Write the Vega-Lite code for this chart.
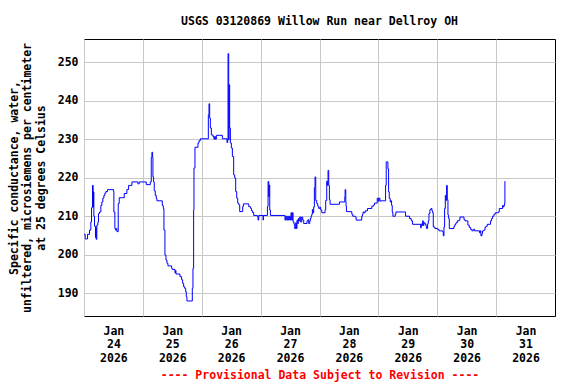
{
  "$schema": "https://vega.github.io/schema/vega-lite/v6.json",
  "width": 471,
  "height": 277,
  "autosize": "none",
  "padding": {"left": 84, "top": 39, "right": 21, "bottom": 68},
  "background": "white",
  "title": {
    "text": "USGS 03120869 Willow Run near Dellroy OH",
    "font": "DejaVu Sans Mono",
    "fontSize": 11.5,
    "fontWeight": "bold",
    "color": "black",
    "anchor": "middle",
    "baseline": "alphabetic",
    "offset": 3
  },
  "config": {
    "view": {"stroke": "black", "strokeWidth": 1},
    "axis": {
      "labelFont": "DejaVu Sans Mono",
      "labelFontWeight": "bold",
      "labelFontSize": 11.5,
      "labelColor": "black",
      "titleFont": "DejaVu Sans Mono",
      "titleFontWeight": "bold",
      "titleFontSize": 11.5,
      "titleColor": "black",
      "gridColor": "#c8c8c8",
      "gridWidth": 1,
      "gridOpacity": 1,
      "domain": false,
      "ticks": false
    }
  },
  "data": {
    "values": [
      {"t": "2026-01-24T00:00", "v": 205.3},
      {"t": "2026-01-24T00:29", "v": 204.1},
      {"t": "2026-01-24T01:26", "v": 205.3},
      {"t": "2026-01-24T02:15", "v": 206.4},
      {"t": "2026-01-24T02:47", "v": 208.5},
      {"t": "2026-01-24T03:04", "v": 212.2},
      {"t": "2026-01-24T03:28", "v": 218.0},
      {"t": "2026-01-24T03:44", "v": 212.4},
      {"t": "2026-01-24T03:53", "v": 216.3},
      {"t": "2026-01-24T04:01", "v": 210.0},
      {"t": "2026-01-24T04:17", "v": 207.4},
      {"t": "2026-01-24T04:41", "v": 204.5},
      {"t": "2026-01-24T04:50", "v": 207.2},
      {"t": "2026-01-24T04:58", "v": 204.0},
      {"t": "2026-01-24T05:14", "v": 207.7},
      {"t": "2026-01-24T05:39", "v": 208.5},
      {"t": "2026-01-24T05:55", "v": 210.7},
      {"t": "2026-01-24T06:20", "v": 211.1},
      {"t": "2026-01-24T06:52", "v": 212.8},
      {"t": "2026-01-24T07:17", "v": 213.7},
      {"t": "2026-01-24T07:41", "v": 214.7},
      {"t": "2026-01-24T08:06", "v": 215.4},
      {"t": "2026-01-24T08:30", "v": 216.0},
      {"t": "2026-01-24T08:55", "v": 216.4},
      {"t": "2026-01-24T09:35", "v": 216.9},
      {"t": "2026-01-24T12:02", "v": 216.5},
      {"t": "2026-01-24T12:11", "v": 211.1},
      {"t": "2026-01-24T12:35", "v": 206.8},
      {"t": "2026-01-24T12:52", "v": 206.4},
      {"t": "2026-01-24T13:08", "v": 206.8},
      {"t": "2026-01-24T13:24", "v": 206.0},
      {"t": "2026-01-24T13:57", "v": 213.3},
      {"t": "2026-01-24T14:22", "v": 214.8},
      {"t": "2026-01-24T16:24", "v": 215.9},
      {"t": "2026-01-24T17:29", "v": 216.9},
      {"t": "2026-01-24T18:10", "v": 218.0},
      {"t": "2026-01-24T19:32", "v": 218.9},
      {"t": "2026-01-24T21:58", "v": 218.4},
      {"t": "2026-01-24T22:31", "v": 218.9},
      {"t": "2026-01-25T01:23", "v": 218.2},
      {"t": "2026-01-25T03:01", "v": 218.9},
      {"t": "2026-01-25T03:25", "v": 225.3},
      {"t": "2026-01-25T03:41", "v": 226.6},
      {"t": "2026-01-25T03:58", "v": 225.3},
      {"t": "2026-01-25T04:06", "v": 220.2},
      {"t": "2026-01-25T04:22", "v": 218.9},
      {"t": "2026-01-25T04:38", "v": 216.6},
      {"t": "2026-01-25T05:03", "v": 215.4},
      {"t": "2026-01-25T05:28", "v": 214.6},
      {"t": "2026-01-25T05:44", "v": 214.0},
      {"t": "2026-01-25T07:55", "v": 212.8},
      {"t": "2026-01-25T08:19", "v": 212.0},
      {"t": "2026-01-25T08:35", "v": 206.4},
      {"t": "2026-01-25T09:00", "v": 199.9},
      {"t": "2026-01-25T09:25", "v": 198.6},
      {"t": "2026-01-25T09:49", "v": 197.8},
      {"t": "2026-01-25T10:13", "v": 197.1},
      {"t": "2026-01-25T11:43", "v": 196.5},
      {"t": "2026-01-25T11:59", "v": 196.2},
      {"t": "2026-01-25T13:05", "v": 195.3},
      {"t": "2026-01-25T13:21", "v": 195.9},
      {"t": "2026-01-25T13:29", "v": 195.0},
      {"t": "2026-01-25T15:07", "v": 194.3},
      {"t": "2026-01-25T15:48", "v": 193.5},
      {"t": "2026-01-25T16:12", "v": 192.6},
      {"t": "2026-01-25T16:37", "v": 191.7},
      {"t": "2026-01-25T17:01", "v": 191.3},
      {"t": "2026-01-25T17:26", "v": 190.4},
      {"t": "2026-01-25T17:42", "v": 189.1},
      {"t": "2026-01-25T17:58", "v": 188.0},
      {"t": "2026-01-25T20:09", "v": 191.3},
      {"t": "2026-01-25T20:25", "v": 196.5},
      {"t": "2026-01-25T20:41", "v": 211.6},
      {"t": "2026-01-25T20:50", "v": 222.5},
      {"t": "2026-01-25T21:14", "v": 227.9},
      {"t": "2026-01-25T22:28", "v": 229.0},
      {"t": "2026-01-25T22:52", "v": 229.6},
      {"t": "2026-01-25T23:25", "v": 230.1},
      {"t": "2026-01-26T02:41", "v": 236.3},
      {"t": "2026-01-26T02:57", "v": 239.2},
      {"t": "2026-01-26T03:14", "v": 235.5},
      {"t": "2026-01-26T03:30", "v": 232.9},
      {"t": "2026-01-26T03:55", "v": 231.1},
      {"t": "2026-01-26T04:35", "v": 230.7},
      {"t": "2026-01-26T04:59", "v": 230.0},
      {"t": "2026-01-26T05:16", "v": 230.7},
      {"t": "2026-01-26T05:32", "v": 230.0},
      {"t": "2026-01-26T05:57", "v": 231.0},
      {"t": "2026-01-26T08:24", "v": 230.1},
      {"t": "2026-01-26T10:18", "v": 229.1},
      {"t": "2026-01-26T10:34", "v": 230.1},
      {"t": "2026-01-26T10:43", "v": 252.2},
      {"t": "2026-01-26T10:59", "v": 229.8},
      {"t": "2026-01-26T11:07", "v": 244.1},
      {"t": "2026-01-26T11:23", "v": 232.9},
      {"t": "2026-01-26T11:40", "v": 229.0},
      {"t": "2026-01-26T12:04", "v": 227.7},
      {"t": "2026-01-26T12:29", "v": 225.5},
      {"t": "2026-01-26T13:01", "v": 220.7},
      {"t": "2026-01-26T13:26", "v": 219.9},
      {"t": "2026-01-26T13:50", "v": 216.4},
      {"t": "2026-01-26T14:15", "v": 214.7},
      {"t": "2026-01-26T14:40", "v": 213.4},
      {"t": "2026-01-26T15:04", "v": 213.0},
      {"t": "2026-01-26T15:28", "v": 211.2},
      {"t": "2026-01-26T16:42", "v": 212.5},
      {"t": "2026-01-26T16:58", "v": 213.2},
      {"t": "2026-01-26T19:09", "v": 212.5},
      {"t": "2026-01-26T19:50", "v": 212.1},
      {"t": "2026-01-26T20:14", "v": 211.5},
      {"t": "2026-01-26T20:38", "v": 211.0},
      {"t": "2026-01-26T21:11", "v": 210.2},
      {"t": "2026-01-26T22:41", "v": 209.9},
      {"t": "2026-01-26T22:58", "v": 209.0},
      {"t": "2026-01-26T23:14", "v": 210.2},
      {"t": "2026-01-27T01:00", "v": 209.0},
      {"t": "2026-01-27T01:08", "v": 210.2},
      {"t": "2026-01-27T02:46", "v": 212.5},
      {"t": "2026-01-27T03:02", "v": 219.0},
      {"t": "2026-01-27T03:19", "v": 215.1},
      {"t": "2026-01-27T03:27", "v": 218.1},
      {"t": "2026-01-27T03:43", "v": 211.6},
      {"t": "2026-01-27T03:59", "v": 210.2},
      {"t": "2026-01-27T09:56", "v": 209.0},
      {"t": "2026-01-27T10:13", "v": 210.0},
      {"t": "2026-01-27T10:37", "v": 209.0},
      {"t": "2026-01-27T11:02", "v": 210.0},
      {"t": "2026-01-27T11:18", "v": 209.0},
      {"t": "2026-01-27T11:43", "v": 210.0},
      {"t": "2026-01-27T12:07", "v": 209.0},
      {"t": "2026-01-27T12:23", "v": 210.9},
      {"t": "2026-01-27T12:40", "v": 209.0},
      {"t": "2026-01-27T12:56", "v": 210.9},
      {"t": "2026-01-27T13:13", "v": 208.5},
      {"t": "2026-01-27T13:37", "v": 207.9},
      {"t": "2026-01-27T13:53", "v": 206.8},
      {"t": "2026-01-27T14:18", "v": 208.3},
      {"t": "2026-01-27T14:34", "v": 206.8},
      {"t": "2026-01-27T14:50", "v": 209.0},
      {"t": "2026-01-27T15:07", "v": 208.1},
      {"t": "2026-01-27T15:23", "v": 209.4},
      {"t": "2026-01-27T15:40", "v": 208.8},
      {"t": "2026-01-27T15:56", "v": 209.8},
      {"t": "2026-01-27T16:20", "v": 208.5},
      {"t": "2026-01-27T16:45", "v": 209.8},
      {"t": "2026-01-27T17:09", "v": 209.0},
      {"t": "2026-01-27T17:34", "v": 208.1},
      {"t": "2026-01-27T18:55", "v": 208.8},
      {"t": "2026-01-27T19:20", "v": 209.1},
      {"t": "2026-01-27T19:36", "v": 208.1},
      {"t": "2026-01-27T20:01", "v": 208.8},
      {"t": "2026-01-27T20:17", "v": 209.4},
      {"t": "2026-01-27T20:34", "v": 210.0},
      {"t": "2026-01-27T20:50", "v": 210.5},
      {"t": "2026-01-27T21:06", "v": 211.7},
      {"t": "2026-01-27T21:22", "v": 210.9},
      {"t": "2026-01-27T21:38", "v": 212.4},
      {"t": "2026-01-27T21:55", "v": 217.4},
      {"t": "2026-01-27T22:11", "v": 220.2},
      {"t": "2026-01-27T22:28", "v": 214.1},
      {"t": "2026-01-27T22:52", "v": 213.3},
      {"t": "2026-01-27T23:17", "v": 212.6},
      {"t": "2026-01-27T23:41", "v": 212.0},
      {"t": "2026-01-28T00:05", "v": 212.3},
      {"t": "2026-01-28T00:30", "v": 211.6},
      {"t": "2026-01-28T00:55", "v": 210.9},
      {"t": "2026-01-28T02:16", "v": 211.7},
      {"t": "2026-01-28T02:32", "v": 214.1},
      {"t": "2026-01-28T02:57", "v": 219.1},
      {"t": "2026-01-28T03:13", "v": 218.0},
      {"t": "2026-01-28T03:29", "v": 221.9},
      {"t": "2026-01-28T03:46", "v": 218.0},
      {"t": "2026-01-28T04:02", "v": 214.3},
      {"t": "2026-01-28T04:19", "v": 213.1},
      {"t": "2026-01-28T08:07", "v": 213.7},
      {"t": "2026-01-28T10:18", "v": 215.0},
      {"t": "2026-01-28T10:26", "v": 216.9},
      {"t": "2026-01-28T10:43", "v": 213.7},
      {"t": "2026-01-28T10:50", "v": 212.6},
      {"t": "2026-01-28T10:59", "v": 211.2},
      {"t": "2026-01-28T13:10", "v": 210.5},
      {"t": "2026-01-28T13:34", "v": 210.0},
      {"t": "2026-01-28T14:31", "v": 209.8},
      {"t": "2026-01-28T14:56", "v": 209.0},
      {"t": "2026-01-28T17:14", "v": 210.0},
      {"t": "2026-01-28T17:31", "v": 210.5},
      {"t": "2026-01-28T17:47", "v": 211.1},
      {"t": "2026-01-28T18:11", "v": 210.9},
      {"t": "2026-01-28T18:36", "v": 211.4},
      {"t": "2026-01-28T19:33", "v": 212.0},
      {"t": "2026-01-28T21:19", "v": 212.6},
      {"t": "2026-01-28T22:00", "v": 212.9},
      {"t": "2026-01-28T22:25", "v": 213.4},
      {"t": "2026-01-28T23:32", "v": 214.7},
      {"t": "2026-01-28T23:56", "v": 213.9},
      {"t": "2026-01-29T00:13", "v": 214.7},
      {"t": "2026-01-29T00:37", "v": 213.9},
      {"t": "2026-01-29T00:53", "v": 214.0},
      {"t": "2026-01-29T02:56", "v": 218.0},
      {"t": "2026-01-29T03:12", "v": 224.1},
      {"t": "2026-01-29T03:53", "v": 222.3},
      {"t": "2026-01-29T04:10", "v": 216.3},
      {"t": "2026-01-29T04:26", "v": 214.6},
      {"t": "2026-01-29T04:50", "v": 213.7},
      {"t": "2026-01-29T05:07", "v": 214.0},
      {"t": "2026-01-29T05:23", "v": 212.8},
      {"t": "2026-01-29T05:39", "v": 211.1},
      {"t": "2026-01-29T05:55", "v": 210.0},
      {"t": "2026-01-29T06:53", "v": 210.5},
      {"t": "2026-01-29T07:09", "v": 211.1},
      {"t": "2026-01-29T11:05", "v": 210.0},
      {"t": "2026-01-29T12:43", "v": 209.4},
      {"t": "2026-01-29T13:24", "v": 208.8},
      {"t": "2026-01-29T13:57", "v": 207.9},
      {"t": "2026-01-29T17:13", "v": 207.0},
      {"t": "2026-01-29T17:29", "v": 208.0},
      {"t": "2026-01-29T17:46", "v": 207.6},
      {"t": "2026-01-29T18:02", "v": 208.8},
      {"t": "2026-01-29T18:18", "v": 207.6},
      {"t": "2026-01-29T18:34", "v": 208.3},
      {"t": "2026-01-29T18:59", "v": 208.0},
      {"t": "2026-01-29T19:23", "v": 207.4},
      {"t": "2026-01-29T19:40", "v": 206.8},
      {"t": "2026-01-29T20:04", "v": 208.0},
      {"t": "2026-01-29T20:20", "v": 208.8},
      {"t": "2026-01-29T20:37", "v": 210.7},
      {"t": "2026-01-29T21:01", "v": 211.7},
      {"t": "2026-01-29T21:26", "v": 212.0},
      {"t": "2026-01-29T21:50", "v": 211.4},
      {"t": "2026-01-29T22:07", "v": 210.9},
      {"t": "2026-01-29T22:23", "v": 207.2},
      {"t": "2026-01-29T23:04", "v": 206.8},
      {"t": "2026-01-30T00:09", "v": 206.6},
      {"t": "2026-01-30T00:41", "v": 206.2},
      {"t": "2026-01-30T02:11", "v": 206.0},
      {"t": "2026-01-30T02:28", "v": 204.9},
      {"t": "2026-01-30T02:44", "v": 207.2},
      {"t": "2026-01-30T03:00", "v": 212.0},
      {"t": "2026-01-30T03:17", "v": 215.4},
      {"t": "2026-01-30T03:33", "v": 214.1},
      {"t": "2026-01-30T03:49", "v": 218.0},
      {"t": "2026-01-30T04:05", "v": 214.3},
      {"t": "2026-01-30T04:22", "v": 210.3},
      {"t": "2026-01-30T04:38", "v": 209.4},
      {"t": "2026-01-30T04:55", "v": 206.8},
      {"t": "2026-01-30T06:49", "v": 207.4},
      {"t": "2026-01-30T07:13", "v": 207.9},
      {"t": "2026-01-30T07:38", "v": 208.3},
      {"t": "2026-01-30T08:10", "v": 208.8},
      {"t": "2026-01-30T08:59", "v": 209.0},
      {"t": "2026-01-30T09:16", "v": 209.8},
      {"t": "2026-01-30T10:54", "v": 209.1},
      {"t": "2026-01-30T11:18", "v": 208.8},
      {"t": "2026-01-30T12:29", "v": 207.7},
      {"t": "2026-01-30T13:02", "v": 207.1},
      {"t": "2026-01-30T13:35", "v": 206.6},
      {"t": "2026-01-30T14:07", "v": 206.2},
      {"t": "2026-01-30T14:40", "v": 206.6},
      {"t": "2026-01-30T15:13", "v": 206.2},
      {"t": "2026-01-30T17:15", "v": 205.7},
      {"t": "2026-01-30T17:31", "v": 206.2},
      {"t": "2026-01-30T17:48", "v": 204.9},
      {"t": "2026-01-30T18:12", "v": 205.5},
      {"t": "2026-01-30T18:29", "v": 206.2},
      {"t": "2026-01-30T19:01", "v": 206.4},
      {"t": "2026-01-30T19:26", "v": 207.1},
      {"t": "2026-01-30T19:50", "v": 207.4},
      {"t": "2026-01-30T20:23", "v": 207.9},
      {"t": "2026-01-30T21:44", "v": 208.8},
      {"t": "2026-01-30T22:09", "v": 209.4},
      {"t": "2026-01-30T22:34", "v": 210.0},
      {"t": "2026-01-30T23:06", "v": 210.5},
      {"t": "2026-01-30T23:38", "v": 210.9},
      {"t": "2026-01-31T00:52", "v": 211.1},
      {"t": "2026-01-31T01:17", "v": 212.0},
      {"t": "2026-01-31T02:38", "v": 212.8},
      {"t": "2026-01-31T02:55", "v": 212.4},
      {"t": "2026-01-31T03:11", "v": 212.8},
      {"t": "2026-01-31T03:27", "v": 213.4},
      {"t": "2026-01-31T03:35", "v": 219.1}
    ]
  },
  "mark": {"type": "line", "interpolate": "step-after", "color": "#0000ff", "strokeWidth": 1, "clip": true},
  "encoding": {
    "x": {
      "field": "t",
      "type": "temporal",
      "scale": {"domain": [{"year": 2026, "month": 1, "date": 24}, {"year": 2026, "month": 2, "date": 1}], "nice": false},
      "axis": {
        "values": [
          {"year": 2026, "month": 1, "date": 24},
          {"year": 2026, "month": 1, "date": 25},
          {"year": 2026, "month": 1, "date": 26},
          {"year": 2026, "month": 1, "date": 27},
          {"year": 2026, "month": 1, "date": 28},
          {"year": 2026, "month": 1, "date": 29},
          {"year": 2026, "month": 1, "date": 30},
          {"year": 2026, "month": 1, "date": 31}
        ],
        "labelExpr": "[timeFormat(datum.value, '%b'), timeFormat(datum.value, '%d'), timeFormat(datum.value, '%Y')]",
        "labelOffset": 29.4,
        "labelFlush": false,
        "labelOverlap": false,
        "labelBound": false,
        "labelAngle": 0,
        "labelAlign": "center",
        "labelBaseline": "top",
        "labelLineHeight": 13.5,
        "labelPadding": 9,
        "grid": true,
        "title": "---- Provisional Data Subject to Revision ----",
        "titleColor": "#ff0000",
        "titlePadding": 6
      }
    },
    "y": {
      "field": "v",
      "type": "quantitative",
      "scale": {"domain": [184.1, 256], "nice": false, "zero": false},
      "axis": {
        "values": [190, 200, 210, 220, 230, 240, 250],
        "grid": true,
        "labelPadding": 6,
        "title": ["Specific conductance, water,", "unfiltered, microsiemens per centimeter", "at 25 degrees Celsius"],
        "titleLineHeight": 13.5,
        "titlePadding": 11
      }
    }
  }
}
